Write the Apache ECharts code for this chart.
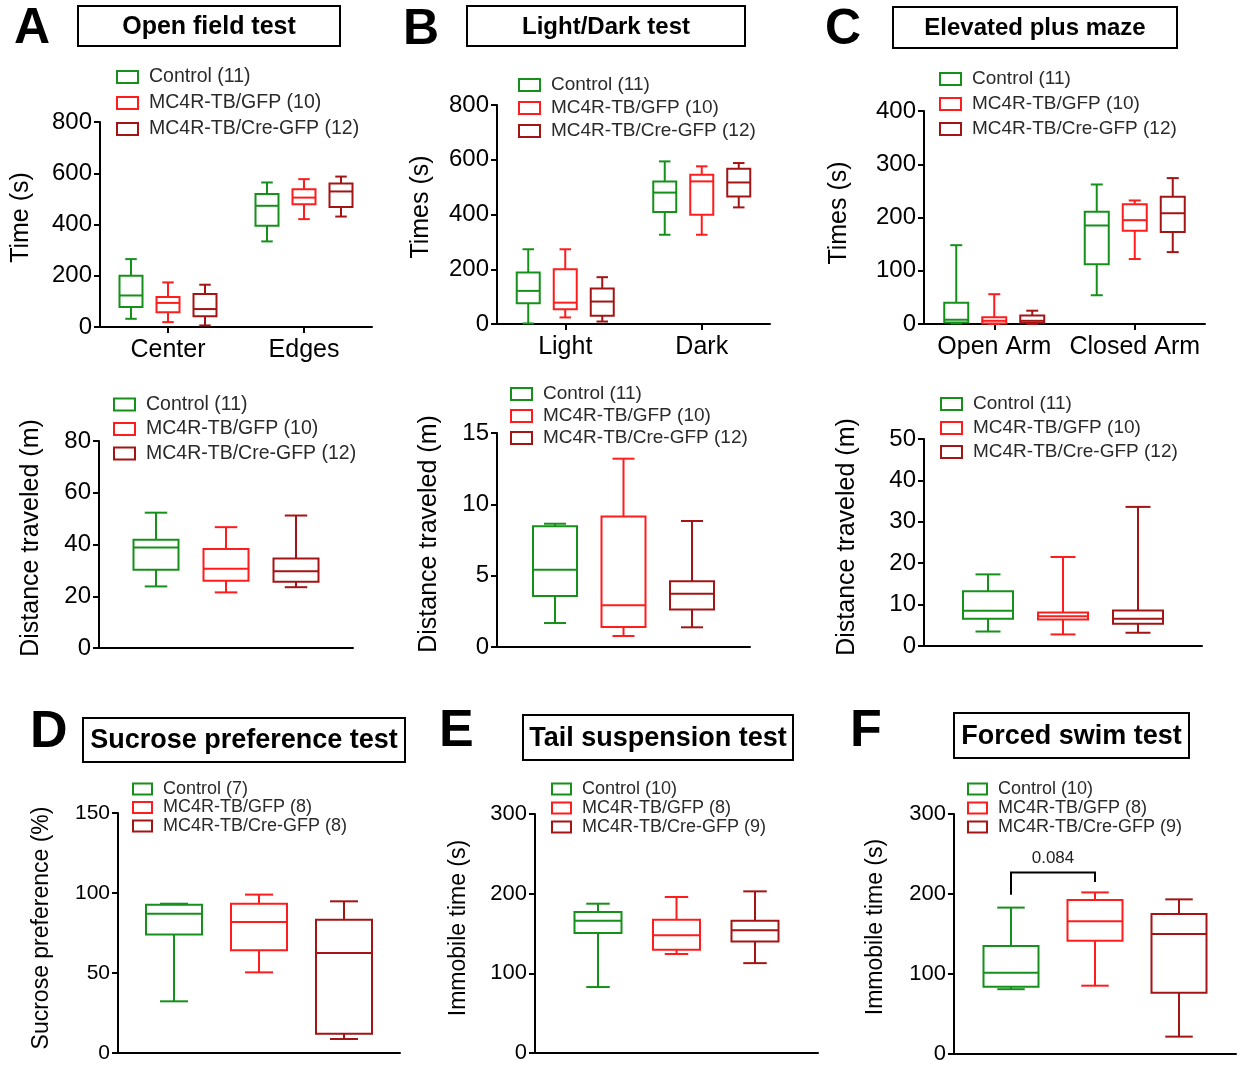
<!DOCTYPE html>
<html><head><meta charset="utf-8">
<script src="https://cdn.jsdelivr.net/npm/echarts@6/dist/echarts.min.js"></script>
<style>html,body{margin:0;padding:0;background:#fff}#c{width:1245px;height:1066px}</style>
</head><body><div id="c"></div>
<script>
// ---------------- DATA ([min, Q1, median, Q3, max]) ----------------
const ofCategories = ['Center', 'Edges'];
const ofControl = [[32, 78, 123, 200, 265], [334, 395, 473, 519, 564]];
const ofGfp     = [[19, 58, 94, 117, 174],  [421, 479, 505, 538, 577]];
const ofCre     = [[6, 42, 70, 129, 165],   [431, 468, 529, 560, 587]];

const ldCategories = ['Light', 'Dark'];
const ldControl = [[2, 76, 121, 188, 273],  [326, 409, 480, 521, 594]];
const ldGfp     = [[24, 54, 78, 200, 273],  [326, 399, 521, 545, 576]];
const ldCre     = [[9, 30, 82, 130, 171],   [426, 466, 517, 567, 588]];

const epmCategories = ['Open Arm', 'Closed Arm'];
const epmControl = [[1, 3, 8, 40, 148],    [54, 112, 185, 211, 262]];
const epmGfp     = [[0, 1, 6, 12.5, 56],   [122, 175, 195, 225, 232]];
const epmCre     = [[0, 2.5, 6, 16, 25],   [135, 173, 208, 239, 274]];

const ofDistControl = [23.8, 30.2, 38.8, 41.8, 52.3];
const ofDistGfp     = [21.5, 26.0, 30.6, 38.3, 46.7];
const ofDistCre     = [23.5, 25.6, 29.7, 34.6, 51.2];

const ldDistControl = [1.68, 3.57, 5.42, 8.46, 8.64];
const ldDistGfp     = [0.77, 1.40, 2.92, 9.14, 13.2];
const ldDistCre     = [1.38, 2.62, 3.74, 4.60, 8.83];

const epmDistControl = [3.5, 6.6, 8.5, 13.2, 17.3];
const epmDistGfp     = [2.8, 6.4, 7.2, 8.1, 21.5];
const epmDistCre     = [3.2, 5.4, 6.6, 8.6, 33.6];

const sptControl = [32.3, 74.0, 87.1, 92.7, 93.3];
const sptGfp     = [50.4, 64.2, 81.9, 93.3, 99.0];
const sptCre     = [8.75, 12.1, 62.5, 83.3, 94.8];

const tstControl = [82.8, 150.6, 166.0, 177.0, 187.4];
const tstGfp     = [124.3, 129.7, 147.7, 167.4, 195.8];
const tstCre     = [112.8, 140.0, 154.0, 166.0, 202.9];

const fstControl = [81.0, 84.0, 101.7, 135.0, 183.0];
const fstGfp     = [85.4, 141.7, 166.0, 192.5, 202.0];
const fstCre     = [21.7, 76.7, 150.0, 175.0, 193.3];

const namesABC = ['Control (11)', 'MC4R-TB/GFP (10)', 'MC4R-TB/Cre-GFP (12)'];
const namesD   = ['Control (7)', 'MC4R-TB/GFP (8)', 'MC4R-TB/Cre-GFP (8)'];
const namesEF  = ['Control (10)', 'MC4R-TB/GFP (8)', 'MC4R-TB/Cre-GFP (9)'];

const fstSig = { label: '0.084', bracketTop: 227, leftEnd: 199, rightEnd: 215, labelY: 245 };

// ---------------- LAYOUT / STYLE ----------------
const FONT = '"Liberation Sans", Arial, Helvetica, sans-serif';
const COLORS = ['#15901a', '#ff1c1c', '#a31414'];

const panels = [
  { g: [100, 122, 272, 205], cats: ofCategories, groups: [ofControl, ofGfp, ofCre], names: namesABC,
    y: [800, 200], yName: 'Time (s)', nameGap: 66, nameShift: 14, off: 37, bw: 23, tick: 24, nfs: 25,
    lg: [116, 67, 19.5, 6] },
  { g: [497, 105, 273, 219], cats: ldCategories, groups: [ldControl, ldGfp, ldCre], names: namesABC,
    y: [800, 200], yName: 'Times (s)', nameGap: 63, nameShift: 15, off: 37, bw: 23, tick: 24, nfs: 25,
    lg: [518, 75.5, 19, 4] },
  { g: [924, 111, 281, 213], cats: epmCategories, groups: [epmControl, epmGfp, epmCre], names: namesABC,
    y: [400, 100], yName: 'Times (s)', nameGap: 72, nameShift: 9, off: 38, bw: 24, tick: 24, nfs: 25,
    lg: [939, 69.5, 19, 6] },
  { g: [99, 441, 254, 207], cats: [''], groups: [[ofDistControl], [ofDistGfp], [ofDistCre]], names: namesABC,
    y: [80, 20], yName: 'Distance traveled (m)', nameGap: 55, nameShift: 13, off: 70, bw: 45, tick: 24, nfs: 25,
    lg: [113, 394.5, 19.5, 4.5] },
  { g: [497, 433, 253, 214], cats: [''], groups: [[ldDistControl], [ldDistGfp], [ldDistCre]], names: namesABC,
    y: [15, 5], yName: 'Distance traveled (m)', nameGap: 55, nameShift: 12, off: 68.5, bw: 44, tick: 24, nfs: 25,
    lg: [510, 384.5, 19, 3] },
  { g: [924, 439, 278, 207], cats: [''], groups: [[epmDistControl], [epmDistGfp], [epmDistCre]], names: namesABC,
    y: [50, 10], yName: 'Distance traveled (m)', nameGap: 64, nameShift: 11, off: 75, bw: 50, tick: 24, nfs: 25,
    lg: [940, 394.5, 19, 5] },
  { g: [118, 813, 282, 240], cats: [''], groups: [[sptControl], [sptGfp], [sptCre]], names: namesD,
    y: [150, 50], yName: 'Sucrose preference (%)', nameGap: 65, nameShift: 10, off: 85, bw: 56, tick: 21, nfs: 23,
    lg: [132, 780, 18, 0.5] },
  { g: [535, 814, 283, 239], cats: [''], groups: [[tstControl], [tstGfp], [tstCre]], names: namesEF,
    y: [300, 100], yName: 'Immobile time (s)', nameGap: 65, nameShift: 11, off: 78.5, bw: 47, tick: 22, nfs: 23,
    lg: [551, 780, 18, 1] },
  { g: [954, 814, 282, 240], cats: [''], groups: [[fstControl], [fstGfp], [fstCre]], names: namesEF,
    y: [300, 100], yName: 'Immobile time (s)', nameGap: 67, nameShift: 14, off: 84, bw: 55, tick: 22, nfs: 23,
    lg: [967, 780, 18, 1] }
];

function makeRender(offset, halfW, capHalf, color, lw) {
  return function (params, api) {
    const c = api.value(0);
    const x = api.coord([c, 0])[0] + offset;
    const y = i => api.coord([c, api.value(i)])[1];
    const yMin = y(1), yQ1 = y(2), yMed = y(3), yQ3 = y(4), yMax = y(5);
    const st = { stroke: color, lineWidth: lw, fill: null };
    return { type: 'group', children: [
      { type: 'line', shape: { x1: x, y1: yMax, x2: x, y2: yQ3 }, style: st },
      { type: 'line', shape: { x1: x, y1: yQ1, x2: x, y2: yMin }, style: st },
      { type: 'line', shape: { x1: x - capHalf, y1: yMax, x2: x + capHalf, y2: yMax }, style: st },
      { type: 'line', shape: { x1: x - capHalf, y1: yMin, x2: x + capHalf, y2: yMin }, style: st },
      { type: 'rect', shape: { x: x - halfW, y: yQ3, width: 2 * halfW, height: yQ1 - yQ3 }, style: st },
      { type: 'line', shape: { x1: x - halfW, y1: yMed, x2: x + halfW, y2: yMed }, style: st }
    ] };
  };
}

const option = {
  animation: false,
  backgroundColor: '#fff',
  textStyle: { fontFamily: FONT },
  grid: [], xAxis: [], yAxis: [], series: [], legend: [], graphic: []
};

panels.forEach((p, i) => {
  const hasCats = p.cats[0] !== '';
  option.grid.push({ left: p.g[0], top: p.g[1], width: p.g[2], height: p.g[3], containLabel: false });
  option.xAxis.push({
    gridIndex: i, type: 'category', data: p.cats,
    axisLine: { show: true, lineStyle: { color: '#000', width: 2 } },
    axisTick: { show: hasCats, alignWithLabel: true, length: 6, lineStyle: { color: '#000', width: 2 } },
    axisLabel: { show: hasCats, interval: 0, hideOverlap: false, fontSize: 25, color: '#000', margin: 11, fontFamily: FONT },
    splitLine: { show: false }
  });
  option.yAxis.push({
    gridIndex: i, type: 'value', min: 0, max: p.y[0], interval: p.y[1],
    axisLine: { show: true, lineStyle: { color: '#000', width: 2 } },
    axisTick: { show: true, length: 6, lineStyle: { color: '#000', width: 2 } },
    axisLabel: { fontSize: p.tick, color: '#000', margin: 8, fontFamily: FONT },
    splitLine: { show: false },
    name: p.yName, nameLocation: 'middle', nameGap: p.nameGap,
    nameTextStyle: { fontSize: p.nfs, color: '#000', fontFamily: FONT, padding: [0, 0, 0, p.nameShift] }
  });
  p.groups.forEach((vals, k) => {
    option.series.push({
      type: 'custom', name: p.names[k], xAxisIndex: i, yAxisIndex: i,
      data: vals.map((v, ci) => [ci].concat(v)),
      encode: { x: 0, y: [1, 2, 3, 4, 5] },
      itemStyle: { color: COLORS[k] },
      renderItem: makeRender((k - 1) * p.off, p.bw / 2, p.bw / 4, COLORS[k], 2)
    });
  });
  option.legend.push({
    left: p.lg[0], top: p.lg[1], orient: 'vertical', padding: 0, itemGap: p.lg[3],
    itemWidth: p.lg[2] >= 19 ? 21 : 19, itemHeight: p.lg[2] >= 19 ? 12 : 11,
    icon: 'rect', selectedMode: false,
    textStyle: { fontSize: p.lg[2], color: '#2a2a2a', fontFamily: FONT, padding: [0, 0, 0, 6] },
    data: p.names.map((n, k) => ({ name: n, itemStyle: { color: 'rgba(0,0,0,0)', borderColor: COLORS[k], borderWidth: 2 } }))
  });
});

const letters = [['A', 14, 29, 50], ['B', 403, 30, 50], ['C', 825, 30, 50],
                 ['D', 30, 733, 52], ['E', 439, 732, 52], ['F', 850, 732, 52]];
letters.forEach(l => option.graphic.push({ type: 'text', x: l[1], y: l[2],
  style: { text: l[0], fontSize: l[3], fontWeight: 'bold', fontFamily: FONT, fill: '#000', align: 'left', verticalAlign: 'middle' } }));

const titles = [['Open field test', 78, 6, 262, 40, 25], ['Light/Dark test', 467, 6, 278, 40, 24],
                ['Elevated plus maze', 893, 7, 284, 41, 24], ['Sucrose preference test', 83, 718, 322, 44, 27],
                ['Tail suspension test', 523, 715, 270, 45, 27], ['Forced swim test', 954, 713, 235, 45, 27]];
titles.forEach(t => {
  option.graphic.push({ type: 'rect', shape: { x: t[1], y: t[2], width: t[3], height: t[4] },
    style: { fill: null, stroke: '#000', lineWidth: 2 } });
  option.graphic.push({ type: 'text', x: t[1] + t[3] / 2, y: t[2] + t[4] / 2 + 1,
    style: { text: t[0], fontSize: t[5], fontWeight: 'bold', fontFamily: FONT, fill: '#000', align: 'center', verticalAlign: 'middle' } });
});

const chart = echarts.init(document.getElementById('c'), null, { renderer: 'canvas' });
chart.setOption(option);

// significance bracket in panel F, placed through the axis scales
const fi = 8, fp = panels[fi];
const cx = chart.convertToPixel({ xAxisIndex: fi, yAxisIndex: fi }, [0, 0])[0];
const yv = v => chart.convertToPixel({ xAxisIndex: fi, yAxisIndex: fi }, [0, v])[1];
const xl = cx - fp.off, xr = cx;
chart.setOption({ graphic: option.graphic.concat([
  { type: 'polyline', shape: { points: [[xl, yv(fstSig.leftEnd)], [xl, yv(fstSig.bracketTop)], [xr, yv(fstSig.bracketTop)], [xr, yv(fstSig.rightEnd)]] },
    style: { stroke: '#000', lineWidth: 2, fill: null } },
  { type: 'text', x: (xl + xr) / 2, y: yv(fstSig.labelY),
    style: { text: fstSig.label, fontSize: 17, fontFamily: FONT, fill: '#222', align: 'center', verticalAlign: 'middle' } }
]) });
</script></body></html>
